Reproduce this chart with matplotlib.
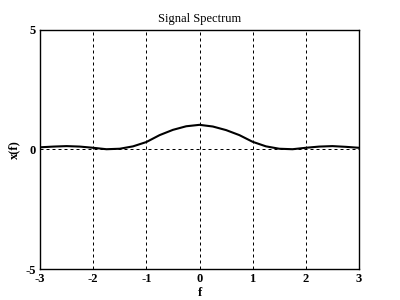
import matplotlib
matplotlib.use("Agg")
import matplotlib.pyplot as plt

f_vals = [-3.0, -2.75, -2.5, -2.25, -2.0, -1.75, -1.5, -1.25, -1.0, -0.75, -0.5, -0.25,
          0.0, 0.25, 0.5, 0.75, 1.0, 1.25, 1.5, 1.75, 2.0, 2.25, 2.5, 2.75, 3.0]
x_vals = [0.09, 0.12, 0.14, 0.12, 0.07, 0.01, 0.03, 0.13, 0.31, 0.60, 0.82, 0.97,
          1.03, 0.96, 0.81, 0.60, 0.32, 0.13, 0.03, 0.01, 0.07, 0.12, 0.14, 0.11, 0.07]
x_ticks = [-3, -2, -1, 0, 1, 2, 3]
y_ticks = [-5, 0, 5]

plt.rcParams['font.family'] = ['Liberation Serif', 'DejaVu Serif']
plt.rcParams['axes.unicode_minus'] = False

fig = plt.figure(figsize=(4, 3), dpi=100)
ax = fig.add_axes([0.1, 0.1033, 0.7975, 0.797])

for xv in x_ticks[1:-1]:
    ax.axvline(xv, color='black', lw=0.72, ls=(0, (3, 3)))
ax.axhline(0, color='black', lw=0.72, ls=(0, (3, 3)))

ax.plot(f_vals, x_vals, color='black', lw=1.5)

ax.set_xlim(-3, 3)
ax.set_ylim(-5, 5)
ax.set_xticks(x_ticks)
ax.set_yticks(y_ticks)
ax.tick_params(length=0, labelsize=9, pad=3)
for lab in ax.get_xticklabels() + ax.get_yticklabels():
    lab.set_fontweight('bold')
for s in ax.spines.values():
    s.set_linewidth(1.0)

ax.set_title('Signal Spectrum', fontsize=9, pad=6)
ax.set_xlabel('f', fontsize=9, fontweight='bold', labelpad=1)
ax.set_ylabel('x(f)', fontsize=9, fontweight='bold', labelpad=4)

fig.savefig('out.png', dpi=100)
